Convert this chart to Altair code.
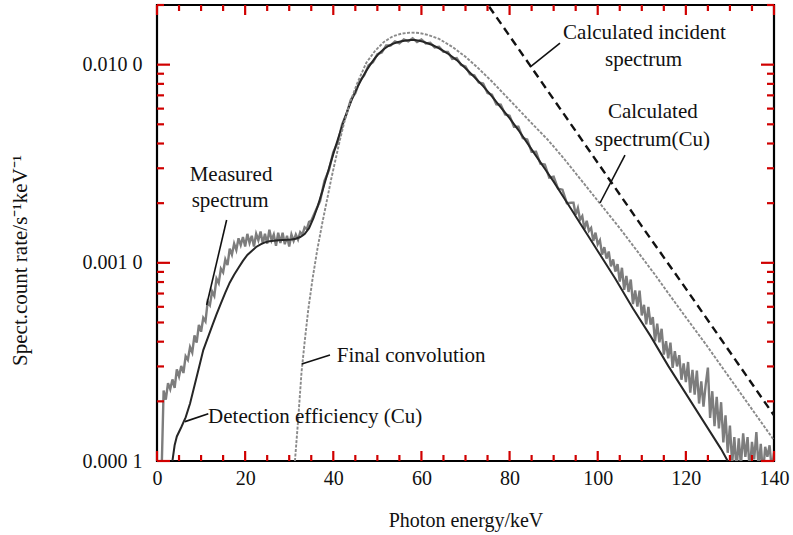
import altair as alt
import pandas as pd

FONT = "Liberation Serif"

# ---------------- data ----------------
measured_keV = [
    1.0, 1.5, 2.0, 2.5, 3.0, 3.5, 4.0, 4.5, 5.0, 5.5, 6.0, 6.5, 7.0, 7.5, 8.0, 8.5, 9.0, 9.5,
    10.0, 10.5, 11.0, 11.5, 12.0, 12.5, 13.0, 13.5, 14.0, 14.5, 15.0, 15.5, 16.0, 16.5, 17.0,
    17.5, 18.0, 18.5, 19.0, 19.5, 20.0, 20.5, 21.0, 21.5, 22.0, 22.5, 23.0, 23.5, 24.0, 24.5,
    25.0, 25.5, 26.0, 26.5, 27.0, 27.5, 28.0, 28.5, 29.0, 29.5, 30.0, 30.5, 31.0, 31.5, 32.0,
    32.5, 33.0, 33.5, 34.0, 34.5, 35.0,
    36, 37, 38, 39, 40, 41, 42, 43, 44, 45, 46, 47, 48, 49, 50, 51, 52, 53, 54, 55, 56, 57,
    58, 59, 60, 61, 62, 63, 64, 65, 66, 67, 68, 69, 70, 71, 72, 73, 74, 75, 76, 77, 78, 79,
    80, 81, 82, 83, 84, 85, 86, 87, 88, 89, 90, 91, 92, 93, 94,
    94.5, 95.0, 95.5, 96.0, 96.5, 97.0, 97.5, 98.0, 98.5, 99.0, 99.5, 100.0, 100.5, 101.0,
    101.5, 102.0, 102.5, 103.0, 103.5, 104.0, 104.5, 105.0, 105.5, 106.0, 106.5, 107.0,
    107.5, 108.0, 108.5, 109.0, 109.5, 110.0, 110.5, 111.0, 111.5, 112.0, 112.5, 113.0,
    113.5, 114.0, 114.5, 115.0, 115.5, 116.0, 116.5, 117.0, 117.5, 118.0, 118.5, 119.0,
    119.5, 120.0, 120.5, 121.0, 121.5, 122.0, 122.5, 123.0, 123.5, 124.0, 124.5, 125.0,
    125.5, 126.0, 126.5, 127.0, 127.5, 128.0, 128.5, 129.0, 129.5, 130.0, 130.5, 131.0,
    131.5, 132.0, 132.5, 133.0, 133.5, 134.0, 134.5, 135.0, 135.5, 136.0, 136.5, 137.0,
    137.5, 138.0, 138.5, 139.0, 139.5, 140.0,
]
measured_rate = [
    8.0e-5, 2.27e-4, 2.04e-4, 2.47e-4, 2.30e-4, 2.58e-4, 2.34e-4, 2.90e-4, 2.67e-4, 3.02e-4,
    2.78e-4, 3.38e-4, 3.24e-4, 3.76e-4, 3.53e-4, 4.30e-4, 3.96e-4, 4.86e-4, 4.49e-4, 5.27e-4,
    5.06e-4, 6.37e-4, 6.12e-4, 7.17e-4, 6.81e-4, 8.32e-4, 7.90e-4, 9.35e-4, 8.96e-4, 1.04e-3,
    9.74e-4, 1.18e-3, 1.10e-3, 1.25e-3, 1.16e-3, 1.33e-3, 1.23e-3, 1.35e-3, 1.21e-3, 1.40e-3,
    1.26e-3, 1.37e-3, 1.21e-3, 1.40e-3, 1.30e-3, 1.44e-3, 1.25e-3, 1.40e-3, 1.25e-3, 1.47e-3,
    1.30e-3, 1.39e-3, 1.22e-3, 1.42e-3, 1.26e-3, 1.42e-3, 1.24e-3, 1.37e-3, 1.21e-3, 1.39e-3,
    1.29e-3, 1.39e-3, 1.31e-3, 1.43e-3, 1.39e-3, 1.51e-3, 1.48e-3, 1.61e-3, 1.63e-3,
    1.83e-3, 2.05e-3, 2.59e-3, 2.93e-3, 3.62e-3, 4.04e-3, 5.00e-3, 5.63e-3, 6.66e-3, 7.18e-3,
    8.29e-3, 8.82e-3, 9.92e-3, 1.03e-2, 1.13e-2, 1.15e-2, 1.25e-2, 1.25e-2, 1.31e-2, 1.28e-2,
    1.34e-2, 1.31e-2, 1.36e-2, 1.30e-2, 1.34e-2, 1.28e-2, 1.29e-2, 1.22e-2, 1.23e-2, 1.16e-2,
    1.16e-2, 1.07e-2, 1.08e-2, 9.97e-3, 9.79e-3, 8.94e-3, 8.84e-3, 8.14e-3, 8.03e-3, 7.20e-3,
    7.06e-3, 6.31e-3, 6.28e-3, 5.61e-3, 5.53e-3, 4.86e-3, 4.86e-3, 4.26e-3, 4.19e-3, 3.63e-3,
    3.64e-3, 3.16e-3, 3.13e-3, 2.69e-3, 2.72e-3, 2.37e-3, 2.34e-3, 2.00e-3, 2.01e-3,
    2.01e-3, 1.75e-3, 1.89e-3, 1.65e-3, 1.72e-3, 1.48e-3, 1.63e-3, 1.45e-3, 1.50e-3, 1.29e-3,
    1.42e-3, 1.24e-3, 1.30e-3, 1.10e-3, 1.20e-3, 1.05e-3, 1.14e-3, 9.60e-4, 1.04e-3, 9.03e-4,
    9.85e-4, 8.05e-4, 9.44e-4, 7.30e-4, 8.58e-4, 7.13e-4, 8.24e-4, 6.19e-4, 7.25e-4, 6.02e-4,
    7.24e-4, 5.43e-4, 6.14e-4, 4.89e-4, 6.00e-4, 4.88e-4, 5.32e-4, 4.02e-4, 4.94e-4, 3.97e-4,
    4.65e-4, 3.44e-4, 4.02e-4, 3.30e-4, 3.96e-4, 2.95e-4, 3.58e-4, 3.00e-4, 3.42e-4, 2.57e-4,
    3.11e-4, 2.50e-4, 3.16e-4, 2.21e-4, 2.88e-4, 2.16e-4, 2.86e-4, 1.95e-4, 2.52e-4, 1.88e-4,
    2.43e-4, 2.96e-4, 1.65e-4, 2.25e-4, 1.50e-4, 2.11e-4, 1.46e-4, 1.98e-4, 1.24e-4, 1.70e-4,
    1.10e-4, 1.51e-4, 9.68e-5, 1.32e-4, 9.0e-5, 1.30e-4, 9.5e-5, 1.38e-4, 1.05e-4, 1.32e-4,
    8.8e-5, 1.25e-4, 1.02e-4, 1.40e-4, 9.2e-5, 1.22e-4, 8.5e-5, 1.18e-4, 1.05e-4, 1.20e-4,
    9.0e-5, 1.10e-4,
]

fit_keV = [
    3.5, 4.0, 4.5, 5.5, 6.5, 7.5, 8.5, 9.5, 10.5, 11.5, 12.5, 13.5, 14.5, 15.5, 16.5, 17.5,
    18.5, 19.5, 20.5, 21.5, 22.5, 23.5, 24.5, 25.5, 26.5, 27.5, 28.5, 29.5, 30.5, 31.5, 32.5,
    33.5, 34.5, 35.5, 36.5, 37.5, 38.5, 39.5, 40.5, 41.5, 42.5, 43.5, 44.5, 45.5, 46.5, 47.5,
    48.5, 49.5, 50.5, 51.5, 52.5, 53.5, 54.5, 55.5, 56.5, 57.5, 58.5, 59.5, 60.5, 61.5, 62.5,
    64, 66, 68, 70, 72, 74, 76, 78, 80, 82, 84, 86, 88, 90, 92, 94, 96, 98, 100, 104, 108,
    112, 116, 120, 124, 128, 129.5,
]
fit_rate = [
    1.00e-4, 1.20e-4, 1.33e-4, 1.48e-4, 1.66e-4, 1.95e-4, 2.40e-4, 2.95e-4, 3.63e-4, 4.17e-4,
    4.79e-4, 5.50e-4, 6.24e-4, 7.08e-4, 7.94e-4, 8.71e-4, 9.44e-4, 1.023e-3, 1.096e-3,
    1.148e-3, 1.202e-3, 1.239e-3, 1.268e-3, 1.285e-3, 1.294e-3, 1.300e-3, 1.303e-3, 1.306e-3,
    1.312e-3, 1.324e-3, 1.349e-3, 1.396e-3, 1.496e-3, 1.679e-3, 1.941e-3, 2.291e-3, 2.735e-3,
    3.258e-3, 3.846e-3, 4.519e-3, 5.284e-3, 6.095e-3, 6.918e-3, 7.727e-3, 8.511e-3, 9.311e-3,
    1.009e-2, 1.081e-2, 1.146e-2, 1.199e-2, 1.242e-2, 1.274e-2, 1.297e-2, 1.312e-2, 1.324e-2,
    1.330e-2, 1.330e-2, 1.321e-2, 1.303e-2, 1.279e-2, 1.256e-2, 1.208e-2, 1.138e-2, 1.054e-2,
    9.594e-3, 8.670e-3, 7.798e-3, 6.918e-3, 6.095e-3, 5.370e-3, 4.677e-3, 4.027e-3, 3.467e-3,
    2.985e-3, 2.570e-3, 2.188e-3, 1.862e-3, 1.585e-3, 1.349e-3, 1.148e-3, 8.318e-4, 5.888e-4,
    4.266e-4, 3.020e-4, 2.188e-4, 1.585e-4, 1.148e-4, 1.00e-4,
]

conv_keV = [
    31.3, 32.0, 32.8, 33.5, 34.3, 35.3, 36.4, 37.5, 38.6, 39.5, 40.4, 41.5, 42.5, 43.8, 45.5,
    47.5, 49.5, 51.5, 53.5, 55.5, 57.5, 59.5, 61.5, 64, 67, 70, 73, 76, 79, 82, 85, 88.7, 92,
    95, 100.5, 105, 109.1, 113, 116, 120, 124.5, 128, 132, 136, 140,
]
conv_rate = [
    1.00e-4, 1.585e-4, 2.818e-4, 3.981e-4, 5.754e-4, 8.318e-4, 1.175e-3, 1.585e-3, 2.089e-3,
    2.630e-3, 3.236e-3, 4.169e-3, 5.129e-3, 6.457e-3, 8.128e-3, 1.023e-2, 1.175e-2, 1.303e-2,
    1.390e-2, 1.435e-2, 1.452e-2, 1.445e-2, 1.413e-2, 1.349e-2, 1.230e-2, 1.096e-2, 9.550e-3,
    8.222e-3, 6.998e-3, 5.957e-3, 5.070e-3, 4.169e-3, 3.428e-3, 2.831e-3, 1.995e-3, 1.496e-3,
    1.135e-3, 8.710e-4, 7.031e-4, 5.309e-4, 3.890e-4, 3.020e-4, 2.265e-4, 1.698e-4, 1.274e-4,
]

incident_keV = [72, 80, 90, 100, 110, 120, 130, 140]
incident_rate = [2.512e-2, 1.396e-2, 6.683e-3, 3.199e-3, 1.531e-3, 7.413e-4, 3.548e-4, 1.698e-4]

x_tick_labels = [0, 20, 40, 60, 80, 100, 120, 140]
x_minor_ticks = [5, 10, 15, 25, 30, 35, 45, 50, 55, 65, 70, 75, 85, 90, 95, 105, 110, 115,
                 125, 130, 135]
y_label_values = [0.0001, 0.001, 0.01]
y_tick_labels = ["0.000 1", "0.001 0", "0.010 0"]
y_minor_ticks = [0.0002, 0.0003, 0.0004, 0.0005, 0.0006, 0.0007, 0.0008, 0.0009,
                 0.002, 0.003, 0.004, 0.005, 0.006, 0.007, 0.008, 0.009, 0.02]

center_text = ["Measured", "spectrum", "Calculated incident", "spectrum",
               "Calculated", "spectrum(Cu)"]
center_keV = [16.8, 16.6, 110.6, 110.4, 112.5, 112.4]
center_rate = [2.77e-3, 2.05e-3, 1.445e-2, 1.055e-2, 5.77e-3, 4.17e-3]
left_text = ["Detection efficiency (Cu)", "Final convolution"]
left_keV = [11.6, 40.8]
left_rate = [1.67e-4, 3.39e-4]
leader_keV1 = [15.8, 6.35, 32.83, 84.64, 100.52]
leader_rate1 = [1.644e-3, 1.58e-4, 3.09e-4, 9.73e-3, 2.004e-3]
leader_keV2 = [11.27, 11.64, 39.25, 91.44, 106.19]
leader_rate2 = [6.13e-4, 1.73e-4, 3.43e-4, 1.285e-2, 3.50e-3]

# ---------------- chart ----------------
W, H = 617, 456
xs = alt.Scale(domain=[0, 140], nice=False, zero=False)
ys = alt.Scale(type="log", domain=[0.0001, 0.02], nice=False)

y_label_expr = " : ".join(
    [f"datum.value < {v * 5:.6f} ? '{t}'" for v, t in zip(y_label_values[:-1], y_tick_labels[:-1])]
) + f" : '{y_tick_labels[-1]}'"

x_label_axis = alt.Axis(values=x_tick_labels, ticks=False, domain=False, grid=False,
                        format="d", labelFont=FONT, labelFontSize=20, labelColor="#111",
                        labelPadding=7, labelFlush=False, labelAngle=0,
                        title="Photon energy/keV", titleFont=FONT, titleFontSize=20,
                        titleFontWeight="normal", titleColor="#111", titleY=65,
                        titleBaseline="alphabetic")
y_label_axis = alt.Axis(values=y_label_values, labelExpr=y_label_expr, ticks=False,
                        domain=False, grid=False, labelFont=FONT, labelFontSize=20,
                        labelColor="#111", labelPadding=15,
                        title="Spect.count rate/s\u207b\u00b9keV\u207b\u00b9", titleFont=FONT,
                        titleFontSize=21, titleFontWeight="normal", titleColor="#111",
                        titleX=-137, titleY=255, titleAlign="center", titleBaseline="middle",
                        titleAngle=270)

X = alt.X("E:Q", scale=xs, axis=x_label_axis)
Y = alt.Y("v:Q", scale=ys, axis=y_label_axis)

TICK = "#d00000"

measured_layer = alt.Chart(pd.DataFrame({"E": measured_keV, "v": measured_rate})).mark_line(
    color="#7d7d7d", strokeWidth=2.4, clip=True).encode(x=X, y=Y)
fit_layer = alt.Chart(pd.DataFrame({"E": fit_keV, "v": fit_rate})).mark_line(
    color="#262626", strokeWidth=2, clip=True).encode(x=X, y=Y)
conv_layer = alt.Chart(pd.DataFrame({"E": conv_keV, "v": conv_rate})).mark_line(
    color="#8a8a8a", strokeWidth=1.9, strokeDash=[3, 1.5], clip=True).encode(x=X, y=Y)
incident_layer = alt.Chart(pd.DataFrame({"E": incident_keV, "v": incident_rate})).mark_line(
    color="#111", strokeWidth=2.4, strokeDash=[8, 5], clip=True).encode(x=X, y=Y)
leader_layer = alt.Chart(pd.DataFrame({"E": leader_keV1, "v": leader_rate1,
                                       "E2": leader_keV2, "v2": leader_rate2})).mark_rule(
    color="#111", strokeWidth=1.6).encode(x=X, y=Y, x2="E2:Q", y2="v2:Q")
ctext_layer = alt.Chart(pd.DataFrame({"E": center_keV, "v": center_rate, "t": center_text})).mark_text(
    font=FONT, fontSize=21, color="#111", align="center", baseline="middle").encode(
    x=X, y=Y, text="t:N")
ltext_layer = alt.Chart(pd.DataFrame({"E": left_keV, "v": left_rate, "t": left_text})).mark_text(
    font=FONT, fontSize=21, color="#111", align="left", baseline="middle").encode(
    x=X, y=Y, text="t:N")

tick_layers = [
    alt.Chart(pd.DataFrame({"E": x_tick_labels})).mark_rule(color=TICK, strokeWidth=2.2).encode(
        x=X, y=alt.value(H), y2=alt.value(H - 10)),
    alt.Chart(pd.DataFrame({"E": x_minor_ticks})).mark_rule(color=TICK, strokeWidth=2.2).encode(
        x=X, y=alt.value(H), y2=alt.value(H - 6)),
    alt.Chart(pd.DataFrame({"E": x_tick_labels})).mark_rule(color=TICK, strokeWidth=2.2).encode(
        x=X, y=alt.value(0), y2=alt.value(10)),
    alt.Chart(pd.DataFrame({"E": x_minor_ticks})).mark_rule(color=TICK, strokeWidth=2.2).encode(
        x=X, y=alt.value(0), y2=alt.value(6)),
    alt.Chart(pd.DataFrame({"v": y_label_values})).mark_rule(color=TICK, strokeWidth=2.2).encode(
        y=Y, x=alt.value(0), x2=alt.value(13)),
    alt.Chart(pd.DataFrame({"v": y_minor_ticks})).mark_rule(color=TICK, strokeWidth=2.2).encode(
        y=Y, x=alt.value(0), x2=alt.value(7)),
    alt.Chart(pd.DataFrame({"v": y_label_values})).mark_rule(color=TICK, strokeWidth=2.2).encode(
        y=Y, x=alt.value(W), x2=alt.value(W - 13)),
    alt.Chart(pd.DataFrame({"v": y_minor_ticks})).mark_rule(color=TICK, strokeWidth=2.2).encode(
        y=Y, x=alt.value(W), x2=alt.value(W - 7)),
]

chart = alt.layer(
    measured_layer, fit_layer, conv_layer, incident_layer, leader_layer, ctext_layer,
    ltext_layer, *tick_layers
).properties(
    width=W, height=H,
    autosize=alt.AutoSizeParams(type="none"),
    padding={"left": 157, "top": 5, "right": 19, "bottom": 74},
    background="white",
).configure_view(stroke="black", strokeWidth=2.2)

chart.save("out.html", embed_options={"renderer": "svg", "actions": False})
